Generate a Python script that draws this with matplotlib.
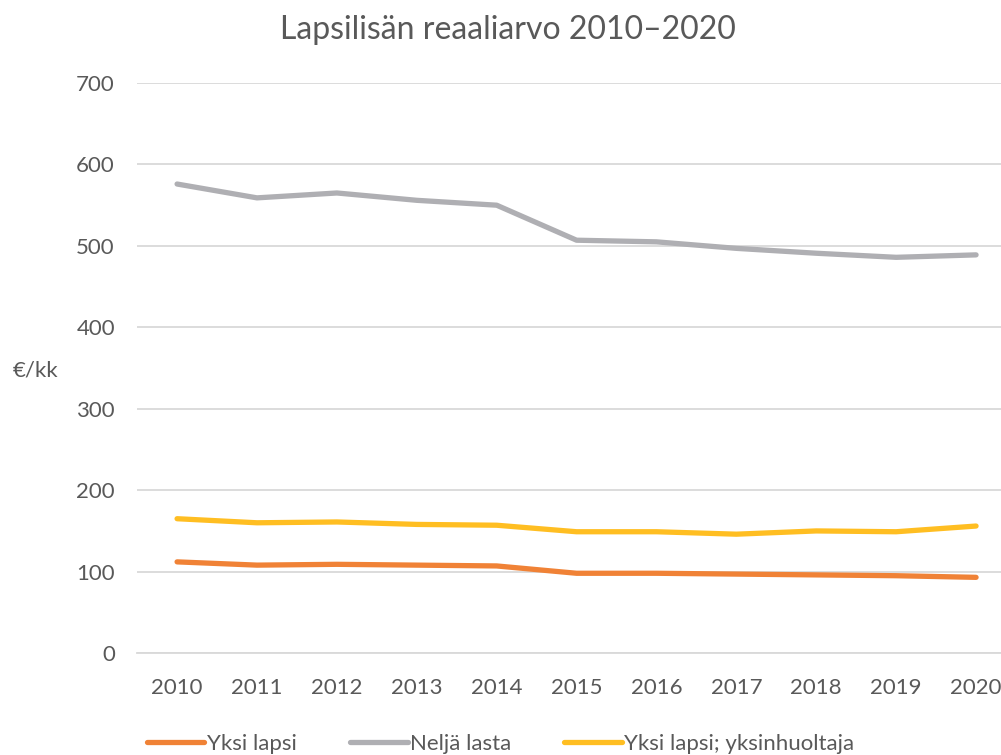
import numpy as np
import matplotlib.pyplot as plt

years = ['2010', '2011', '2012', '2013', '2014', '2015', '2016', '2017', '2018', '2019', '2020']
yksi_lapsi = [112, 108, 109, 108, 107, 98, 98, 97, 96, 95, 93]
nelja_lasta = [576, 559, 565, 556, 550, 507, 505, 497, 491, 486, 489]
yksinhuoltaja = [165, 160, 161, 158, 157, 149, 149, 146, 150, 149, 156]

plt.rcParams['font.family'] = ['Lato', 'DejaVu Sans']
txt = '#595959'

fig = plt.figure(figsize=(10.01, 7.55), dpi=100)
ax = fig.add_axes([0.137, 0.135, 0.878, 0.755])

x = np.arange(len(years))
ax.plot(x, yksi_lapsi, c='#F08236', lw=3.8, solid_capstyle='round', label='Yksi lapsi')
ax.plot(x, nelja_lasta, c='#AFAFB3', lw=3.8, solid_capstyle='round', label='Neljä lasta')
ax.plot(x, yksinhuoltaja, c='#FFBE22', lw=3.8, solid_capstyle='round', label='Yksi lapsi; yksinhuoltaja')

ax.set_xlim(-0.5, 10.5)
ax.set_ylim(0, 700)
ax.set_yticks(range(0, 701, 100))
ax.set_xticks(x)
ax.set_xticklabels(years)
ax.grid(axis='y', color='#d9d9d9', lw=1.3)
ax.set_axisbelow(True)
for s in ['top', 'right', 'left']:
    ax.spines[s].set_visible(False)
ax.spines['bottom'].set_color('#d9d9d9')
ax.spines['bottom'].set_linewidth(1.3)
ax.tick_params(length=0, labelsize=16, colors=txt)
ax.tick_params(axis='x', pad=18)
ax.tick_params(axis='y', pad=16)

ax.set_ylabel('€/kk', rotation=0, fontsize=16, color=txt, ha='center', va='center')
ax.yaxis.set_label_coords(-0.116, 0.496)

fig.text(0.507, 0.96, 'Lapsilisän reaaliarvo 2010–2020', ha='center', va='center',
         fontsize=23, color=txt)

leg = fig.legend(loc='center', bbox_to_anchor=(0.5, 0.015), ncol=3, frameon=False,
                 fontsize=16, handlelength=2.6, handletextpad=0.1, columnspacing=2.4,
                 labelcolor=txt)

plt.savefig('out.png', dpi=100)
